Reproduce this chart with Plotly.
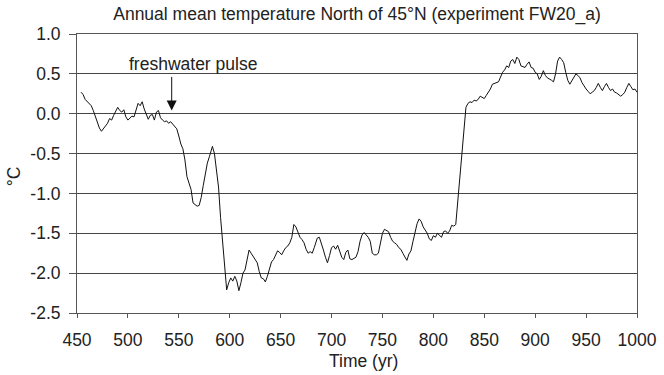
import plotly.graph_objects as go

years = [454, 456, 458, 460, 462, 464, 466, 468, 470, 472, 474, 476, 478, 480, 482, 484, 486, 488, 490, 492,
         494, 496, 498, 500, 502, 504, 506, 508, 510, 512, 514, 516, 518, 520, 522, 524, 526, 528, 530, 532,
         534, 536, 538, 540, 542, 544, 546, 548, 550, 552, 554, 556, 558, 560, 562, 564, 566, 568, 570, 572,
         574, 576, 578, 580, 582, 583, 585, 587, 589, 591, 593, 595, 597, 599, 601, 603, 605, 607, 609, 611,
         613, 615, 617, 619, 621, 623, 625, 627, 629, 631, 633, 635, 637, 639, 641, 643, 645, 647, 649, 651,
         653, 655, 657, 659, 661, 663, 665, 667, 669, 671, 673, 675, 677, 679, 681, 683, 686, 688, 690, 692,
         694, 696, 698, 700, 702, 704, 706, 708, 710, 712, 714, 716, 718, 720, 722, 724, 726, 728, 730, 732,
         734, 736, 738, 740, 742, 744, 746, 748, 750, 752, 754, 756, 758, 760, 762, 764, 766, 768, 770, 772,
         774, 776, 778, 780, 782, 784, 786, 788, 790, 792, 794, 796, 798, 800, 802, 804, 806, 808, 810, 812,
         814, 816, 818, 820, 822, 824, 826, 828, 830, 832, 834, 836, 838, 840, 842, 844, 846, 848, 850, 852,
         854, 856, 858, 860, 862, 864, 866, 868, 870, 872, 874, 876, 878, 880, 882, 884, 886, 888, 890, 892,
         894, 896, 898, 900, 902, 904, 906, 908, 910, 912, 914, 916, 918, 920, 922, 924, 926, 928, 930, 932,
         934, 936, 938, 940, 942, 944, 946, 948, 950, 952, 954, 956, 958, 960, 962, 964, 966, 968, 970, 972,
         974, 976, 978, 980, 982, 984, 986, 988, 990, 992, 994, 996, 998, 1000]

temperature = [0.27, 0.24, 0.18, 0.15, 0.13, 0.10, 0.04, -0.03, -0.10, -0.18, -0.22, -0.19, -0.15, -0.12, -0.06, -0.08, -0.02, 0.03, 0.08, 0.04,
               0.02, 0.05, -0.04, -0.08, -0.05, -0.03, -0.04, 0.06, 0.13, 0.10, 0.15, 0.06, -0.02, -0.07, -0.02, -0.01, -0.08, 0.02, 0.04, -0.05,
               -0.08, -0.10, -0.09, -0.12, -0.10, -0.13, -0.15, -0.19, -0.28, -0.38, -0.44, -0.58, -0.79, -0.88, -0.95, -1.12, -1.14, -1.16, -1.15, -1.05,
               -0.90, -0.75, -0.62, -0.54, -0.44, -0.41, -0.50, -0.70, -0.92, -1.30, -1.60, -1.95, -2.21, -2.12, -2.06, -2.10, -2.04, -2.10, -2.22, -2.12,
               -2.00, -1.96, -1.85, -1.71, -1.75, -1.79, -1.82, -1.87, -1.98, -2.06, -2.07, -2.11, -2.04, -1.95, -1.86, -1.83, -1.78, -1.72, -1.74, -1.77,
               -1.72, -1.68, -1.66, -1.62, -1.55, -1.39, -1.42, -1.50, -1.55, -1.58, -1.62, -1.70, -1.75, -1.73, -1.75, -1.68, -1.56, -1.55, -1.62, -1.71,
               -1.80, -1.87, -1.78, -1.68, -1.66, -1.70, -1.65, -1.72, -1.80, -1.83, -1.74, -1.71, -1.82, -1.83, -1.82, -1.80, -1.73, -1.60, -1.52, -1.49,
               -1.52, -1.55, -1.60, -1.75, -1.77, -1.77, -1.75, -1.62, -1.50, -1.45, -1.46, -1.48, -1.55, -1.60, -1.62, -1.64, -1.68, -1.70, -1.75, -1.80,
               -1.84, -1.76, -1.72, -1.60, -1.47, -1.38, -1.32, -1.35, -1.42, -1.46, -1.50, -1.57, -1.59, -1.53, -1.55, -1.50, -1.53, -1.55, -1.48, -1.47,
               -1.50, -1.47, -1.40, -1.41, -1.39, -1.10, -0.85, -0.56, -0.20, 0.08, 0.13, 0.15, 0.14, 0.17, 0.16, 0.18, 0.22, 0.20, 0.19, 0.23,
               0.27, 0.31, 0.37, 0.38, 0.40, 0.40, 0.46, 0.52, 0.55, 0.60, 0.58, 0.66, 0.68, 0.63, 0.71, 0.68, 0.60, 0.59, 0.58, 0.62,
               0.65, 0.58, 0.57, 0.52, 0.50, 0.43, 0.47, 0.54, 0.48, 0.45, 0.44, 0.42, 0.40, 0.50, 0.66, 0.71, 0.68, 0.64, 0.52, 0.42,
               0.37, 0.42, 0.46, 0.50, 0.48, 0.45, 0.39, 0.34, 0.31, 0.28, 0.25, 0.27, 0.29, 0.33, 0.38, 0.33, 0.29, 0.34, 0.38, 0.33,
               0.29, 0.31, 0.27, 0.26, 0.24, 0.22, 0.24, 0.27, 0.33, 0.38, 0.34, 0.30, 0.31, 0.27]

x_ticks = [450, 500, 550, 600, 650, 700, 750, 800, 850, 900, 950, 1000]
y_ticks = [-2.5, -2.0, -1.5, -1.0, -0.5, 0.0, 0.5, 1.0]
y_tick_labels = ["-2.5", "-2.0", "-1.5", "-1.0", "-0.5", "0.0", "0.5", "1.0"]

pulse_year = 543
pulse_tip = 0.04
pulse_tail = 0.48

FONT = "Liberation Sans, Arial, sans-serif"
TXT = "#222222"
FS = 17.5

fig = go.Figure()
fig.add_trace(go.Scatter(x=years, y=temperature, mode="lines",
                         line=dict(color="#111111", width=1), showlegend=False,
                         hoverinfo="skip"))

fig.update_layout(
    width=664, height=375,
    margin=dict(l=77, r=27, t=34, b=62),
    paper_bgcolor="white", plot_bgcolor="white",
    font=dict(family=FONT, size=FS, color=TXT),
    title=dict(text="Annual mean temperature North of 45°N (experiment FW20_a)",
               x=0.5, xanchor="center", xref="paper",
               y=1 - 14 / 375, yref="container", yanchor="middle",
               font=dict(family=FONT, size=FS, color=TXT)),
    xaxis=dict(range=[450, 1000], tickvals=x_ticks, ticktext=[str(v) for v in x_ticks],
               ticks="outside", ticklen=4, tickcolor="#555555", ticklabelstandoff=7,
               showline=True, linecolor="#555555", linewidth=1, mirror=True,
               showgrid=False, zeroline=False, automargin=False),
    yaxis=dict(range=[-2.5, 1.0], tickvals=y_ticks, ticktext=y_tick_labels,
               ticks="outside", ticklen=7, tickcolor="#555555", ticklabelstandoff=5,
               showline=True, linecolor="#555555", linewidth=1, mirror=True,
               showgrid=True, gridcolor="#444444", gridwidth=1,
               zeroline=False, automargin=False),
)

# axis titles
fig.add_annotation(text="Time (yr)", xref="paper", yref="paper",
                   x=(363 - 77) / 560, y=(313 - 361) / 279,
                   xanchor="center", yanchor="middle", showarrow=False,
                   font=dict(family=FONT, size=FS, color=TXT))
fig.add_annotation(text="°C", xref="paper", yref="paper",
                   x=(14 - 77) / 560, y=0.49, textangle=-90,
                   xanchor="center", yanchor="middle", showarrow=False,
                   font=dict(family=FONT, size=FS, color=TXT))

fig.add_annotation(x=pulse_year, y=pulse_tip, ax=pulse_year, ay=pulse_tail,
                   xref="x", yref="y", axref="x", ayref="y",
                   showarrow=True, arrowhead=2, arrowsize=2, arrowwidth=1,
                   arrowcolor="#111111", text="")
fig.add_annotation(x=pulse_year + 21, y=0.625, xref="x", yref="y",
                   text="freshwater pulse", showarrow=False,
                   font=dict(family=FONT, size=FS, color=TXT))

fig.write_html("out.html")
